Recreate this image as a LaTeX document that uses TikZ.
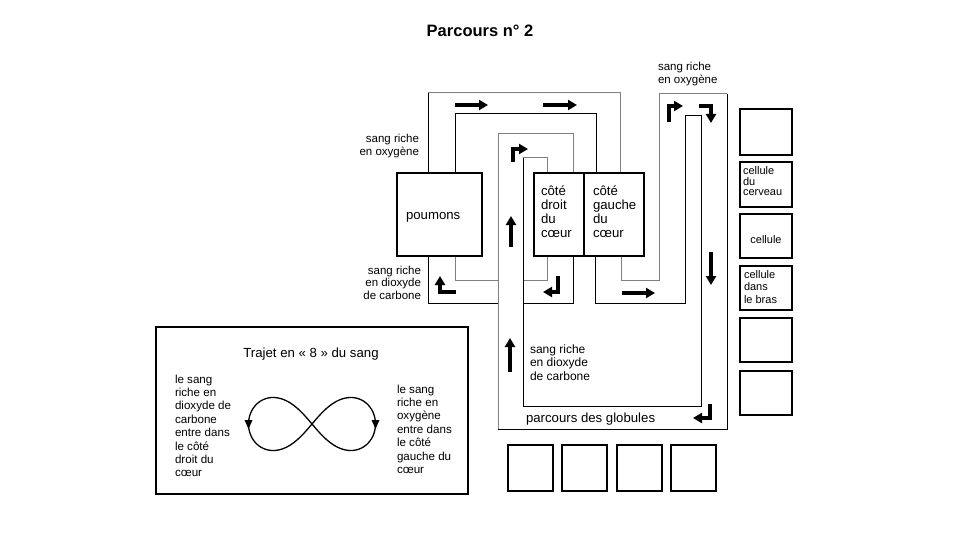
\documentclass[tikz,border=0pt]{standalone}
\usepackage{fontspec}
\setmainfont{Liberation Sans}
\usetikzlibrary{arrows.meta}
\begin{document}
\begin{tikzpicture}[x=1pt,y=-1pt,
  wallk/.style={draw=black, line width=1pt},
  wallg/.style={draw=black!50, line width=1pt},
  organ/.style={draw=black, line width=2pt, anchor=north west, inner sep=0pt, outer sep=0pt},
  cellbox/.style={draw=black, line width=1.6pt, anchor=north west, inner sep=0pt, outer sep=0pt},
  fat/.style={line width=3.2pt, line join=miter, -{Triangle[length=9pt,width=10pt]}},
  lbl/.style={inner sep=0pt, outer sep=0pt},
  side/.style={lbl, font=\fontsize{11.5}{12.5}\selectfont},
  mid/.style={lbl, font=\fontsize{13.2}{14}\selectfont},
  small/.style={lbl, font=\fontsize{11}{10.5}\selectfont},
  note/.style={lbl, font=\fontsize{11.6}{13.4}\selectfont},
]
\useasboundingbox (0,0) rectangle (960,540);
\fill[white] (0,0) rectangle (960,540);

% title
\node[lbl, anchor=base, font=\fontsize{16.5}{18}\selectfont\bfseries] (title) at (480,37) {Parcours n° 2};

% lung circuit walls
\draw[wallk] (428,173) -- (428,93);
\draw[wallg] (428,93) -- (620,93) -- (620,173);
\draw[wallk] (455,173) -- (455,114) -- (596,114) -- (596,173);
\draw[wallg] (547,256) -- (547,280) -- (523,280);
\draw[wallg] (498,280) -- (455,280) -- (455,256);
\draw[wallk] (573,256) -- (573,303) -- (523,303);
\draw[wallk] (498,303) -- (428,303) -- (428,256);

% systemic circuit walls
\draw[wallg] (621,256) -- (621,280) -- (659,280) -- (659,94) -- (727,94);
\draw[wallk] (727,94) -- (727,429) -- (498,429);
\draw[wallg] (498,429) -- (498,134) -- (573,134) -- (573,173);
\draw[wallk] (595,256) -- (595,303) -- (685,303) -- (685,116) -- (701,116) -- (701,406) -- (523,406) -- (523,158);
\draw[wallg] (523,158) -- (547,158) -- (547,173);

% organs
\node[organ, minimum width=85pt, minimum height=83pt] (poumons) at (397,173) {};
\node[organ, minimum width=50pt, minimum height=83pt] (droit) at (534,173) {};
\node[organ, minimum width=60pt, minimum height=83pt] (gauche) at (584,173) {};

\node[mid, anchor=base west] (tpoumons) at (406,219) {poumons};
\node[mid, anchor=base west, align=left] (tdroit) at (541,237) {côté\\droit\\du\\cœur};
\node[mid, anchor=base west, align=left] (tgauche) at (593,237) {côté\\gauche\\du\\cœur};

% labels
\node[side, anchor=base east, align=right] (oxyL) at (419,155.5) {sang riche\\en oxygène};
\node[side, anchor=base east, align=right] (co2L) at (421,299) {sang riche\\en dioxyde\\de carbone};
\node[side, anchor=base west, align=left] (oxyR) at (658,83.5) {sang riche\\en oxygène};
\node[lbl, font=\fontsize{12}{13.5}\selectfont, anchor=base west, align=left] (co2M) at (530,380) {sang riche\\en dioxyde\\de carbone};
\node[mid, anchor=base west] (globules) at (526,422) {parcours des globules};

% flow arrows
\draw[fat] (455,105) -- (488,105);
\draw[fat] (543,105) -- (577,105);
\draw[fat] (513,162) -- (513,149) -- (528,149);
\draw[fat] (511,247) -- (511,216);
\draw[fat] (510,372) -- (510,338);
\draw[fat] (558,276) -- (558,292) -- (543,292);
\draw[fat] (456,292) -- (440,292) -- (440,276);
\draw[fat] (622,293) -- (655,293);
\draw[fat] (711,252) -- (711,285);
\draw[fat] (669,122) -- (669,106) -- (683,106);
\draw[fat] (699,106) -- (711,106) -- (711,123);
\draw[fat] (710,404) -- (710,418) -- (693,418);

% cells on the right
\node[cellbox, minimum width=52pt, minimum height=46pt] (c1) at (740,109) {};
\node[cellbox, minimum width=52pt, minimum height=45pt] (c2) at (740,162) {};
\node[cellbox, minimum width=52pt, minimum height=44pt] (c3) at (740,214) {};
\node[cellbox, minimum width=52pt, minimum height=44pt] (c4) at (740,266) {};
\node[cellbox, minimum width=52pt, minimum height=44pt] (c5) at (740,318) {};
\node[cellbox, minimum width=52pt, minimum height=44pt] (c6) at (740,371) {};
\node[small, anchor=base west, align=left] (tc2) at (743,196) {cellule\\du\\cerveau};
\node[small, anchor=base] (tc3) at (766,243) {cellule};
\node[lbl, font=\fontsize{11}{12.8}\selectfont, anchor=base west, align=left] (tc4) at (744,303.6) {cellule\\dans\\le bras};

% cells at the bottom
\node[cellbox, minimum width=45pt, minimum height=46pt] (b1) at (508,445) {};
\node[cellbox, minimum width=45pt, minimum height=46pt] (b2) at (562,445) {};
\node[cellbox, minimum width=45pt, minimum height=46pt] (b3) at (617,445) {};
\node[cellbox, minimum width=45pt, minimum height=46pt] (b4) at (671,445) {};

% figure-eight box
\node[cellbox, line width=1.5pt, minimum width=312pt, minimum height=167pt] (eightbox) at (156,327) {};
\node[mid, anchor=base] (ttrajet) at (311,357) {Trajet en « 8 » du sang};
\node[note, anchor=base west, align=left] (tleft) at (175,476.8) {le sang\\riche en\\dioxyde de\\carbone\\entre dans\\le côté\\droit du\\cœur};
\node[note, anchor=base west, align=left] (tright) at (397,473.4) {le sang\\riche en\\oxygène\\entre dans\\le côté\\gauche du\\cœur};
\draw[line width=1.3pt] plot[domain=0:360, samples=150, smooth]
  ({312+63.5*cos(\x)/(1+sin(\x)*sin(\x))}, {424+75*sin(\x)*cos(\x)/(1+sin(\x)*sin(\x))});
\fill (244.5,420) -- (252.5,420) -- (248.5,429) -- cycle;
\fill (371.5,420) -- (379.5,420) -- (375.5,429) -- cycle;
\end{tikzpicture}
\end{document}
